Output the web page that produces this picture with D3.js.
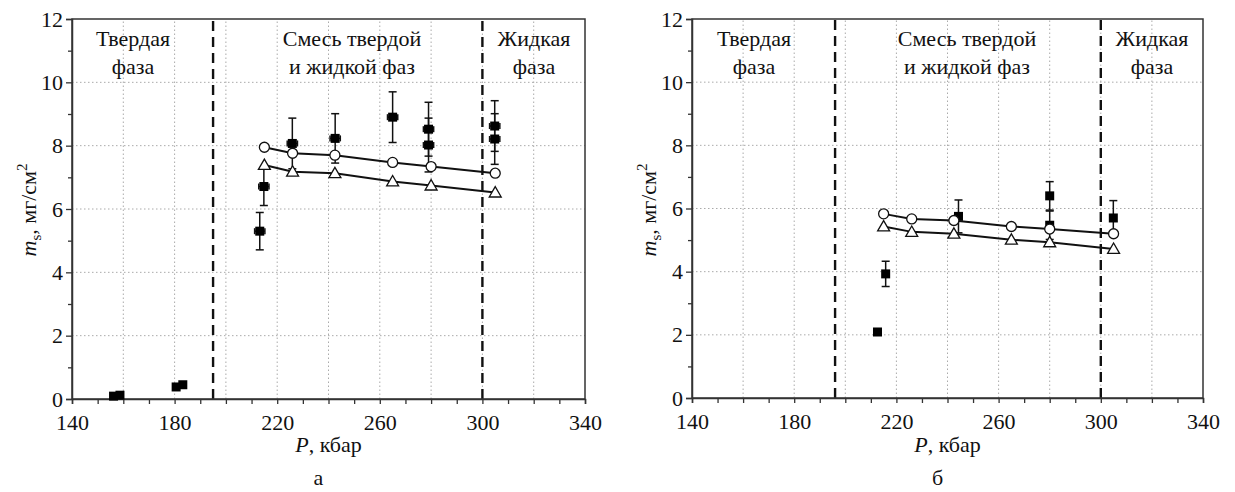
<!DOCTYPE html>
<html>
<head>
<meta charset="utf-8">
<script src="https://cdn.jsdelivr.net/npm/d3@7"></script>
<style>
  body { margin: 0; background: #fff; }
  svg text { font-family: "Liberation Serif", "Times New Roman", Times, "DejaVu Serif", serif !important; fill: #111; }
</style>
</head>
<body>
<svg></svg>
<script>
var w = 1235;
var h = 492;
var serif = "'Liberation Serif', 'Times New Roman', Times, 'DejaVu Serif', serif";

var svg = d3.select("svg")
            .attr("width", w)
            .attr("height", h)
            .style("font-family", serif);

// calculated points (same pressures in both panels)
var calcP = [215, 226, 242.5, 265, 280, 305];

// panel a
var leftCircles = [7.95, 7.76, 7.70, 7.47, 7.34, 7.13];
var leftTriangles = [7.39, 7.18, 7.13, 6.87, 6.74, 6.52];
var leftExpP = [156.2, 158.7, 180.6, 183.2, 213.2, 214.8, 225.9, 242.6, 265, 279, 279, 304.8, 304.8];
var leftExpM = [0.09, 0.12, 0.38, 0.45, 5.30, 6.71, 8.07, 8.23, 8.9, 8.52, 8.02, 8.62, 8.21];
var leftExpErr = [0, 0, 0, 0, 0.59, 0.6, 0.8, 0.78, 0.8, 0.85, 0.85, 0.8, 0.8];
var leftExpPErr = [0, 0, 0, 0, 2, 2, 2, 2, 2, 2, 2, 2, 2];
var leftBounds = [195, 300];

// panel б
var rightCircles = [5.83, 5.67, 5.62, 5.43, 5.35, 5.20];
var rightTriangles = [5.43, 5.26, 5.20, 5.01, 4.93, 4.72];
var rightExpP = [212.6, 215.8, 244.3, 280, 280, 304.9];
var rightExpM = [2.09, 3.93, 5.75, 6.40, 5.47, 5.70];
var rightExpErr = [0, 0.4, 0.52, 0.45, 0.45, 0.55];
var rightExpPErr = [0, 0, 0, 0, 0, 0];
var rightBounds = [196, 300];

var xTicks = d3.range(140, 341, 10);
var yTicks = d3.range(0, 13, 1);
var xGrid = d3.range(160, 321, 20);
var yGrid = d3.range(2, 11, 2);

function drawPanel(cfg) {
  var x = d3.scaleLinear().domain([140, 340]).range([cfg.x0, cfg.x1]);
  var y = d3.scaleLinear().domain([0, 12]).range([cfg.y0, cfg.y1]);
  var g = svg.append("g");

  // dotted grid
  g.selectAll(".vgrid").data(xGrid).join("line")
    .attr("x1", function(d){ return x(d); }).attr("x2", function(d){ return x(d); })
    .attr("y1", y(0)).attr("y2", y(12))
    .attr("stroke", "#aaa").attr("stroke-width", 1).attr("stroke-dasharray", "1.5,2.5");
  g.selectAll(".hgrid").data(yGrid).join("line")
    .attr("x1", x(140)).attr("x2", x(340))
    .attr("y1", function(d){ return y(d); }).attr("y2", function(d){ return y(d); })
    .attr("stroke", "#aaa").attr("stroke-width", 1).attr("stroke-dasharray", "1.5,2.5");

  // phase boundaries
  g.selectAll(".bound").data(cfg.bounds).join("line")
    .attr("x1", function(d){ return x(d); }).attr("x2", function(d){ return x(d); })
    .attr("y1", y(0)).attr("y2", y(12))
    .attr("stroke", "#111").attr("stroke-width", 2.4).attr("stroke-dasharray", "10,6");

  // frame
  g.append("rect")
    .attr("x", x(140)).attr("y", y(12))
    .attr("width", x(340) - x(140)).attr("height", y(0) - y(12))
    .attr("fill", "none").attr("stroke", "#333").attr("stroke-width", 1.5);

  // axes
  var xAxis = d3.axisBottom(x).tickValues(xTicks).tickSize(5).tickPadding(10)
    .tickFormat(function(d){ return d % 40 === 20 ? d : ""; });
  var xg = g.append("g").attr("transform", "translate(0," + y(0) + ")").call(xAxis);
  var yAxis = d3.axisLeft(y).tickValues(yTicks).tickSize(6).tickPadding(3)
    .tickFormat(function(d){ return d % 2 === 0 ? d : ""; });
  var yg = g.append("g").attr("transform", "translate(" + x(140) + ",0)").call(yAxis);
  yg.selectAll(".tick line").attr("x2", function(d){ return d % 2 === 0 ? -6 : -4; });
  [xg, yg].forEach(function(a){
    a.attr("font-family", null);
    a.select(".domain").attr("stroke", "#333").attr("stroke-width", 1.5);
    a.selectAll(".tick line").attr("stroke", "#333").attr("stroke-width", 1.3);
    a.selectAll(".tick text").style("font-size", "22px").style("font-family", serif).attr("fill", "#111");
  });
  xg.selectAll(".tick text").attr("dy", "0.71em");

  // experimental points with error bars
  var exp = cfg.expP.map(function(p, i){
    return { p: p, m: cfg.expM[i], e: cfg.expErr[i], pe: cfg.expPErr[i] };
  });
  var eb = g.append("g").attr("stroke", "#111").attr("stroke-width", 1.5);
  exp.forEach(function(d){
    if (d.e > 0) {
      eb.append("line").attr("x1", x(d.p)).attr("x2", x(d.p))
        .attr("y1", y(d.m - d.e)).attr("y2", y(d.m + d.e));
      [d.m - d.e, d.m + d.e].forEach(function(v){
        eb.append("line").attr("x1", x(d.p) - 4).attr("x2", x(d.p) + 4)
          .attr("y1", y(v)).attr("y2", y(v));
      });
    }
    if (d.pe > 0) {
      eb.append("line").attr("x1", x(d.p - d.pe)).attr("x2", x(d.p + d.pe))
        .attr("y1", y(d.m)).attr("y2", y(d.m));
      [d.p - d.pe, d.p + d.pe].forEach(function(v){
        eb.append("line").attr("x1", x(v)).attr("x2", x(v))
          .attr("y1", y(d.m) - 3).attr("y2", y(d.m) + 3);
      });
    }
  });
  g.selectAll(".sq").data(exp).join("rect")
    .attr("x", function(d){ return x(d.p) - 4.5; })
    .attr("y", function(d){ return y(d.m) - 4.5; })
    .attr("width", 9).attr("height", 9)
    .attr("fill", "#000");

  // calculated curves
  var line = d3.line().x(function(d){ return x(d[0]); }).y(function(d){ return y(d[1]); });
  [cfg.circles, cfg.triangles].forEach(function(vals){
    g.append("path")
      .attr("d", line(calcP.map(function(p, i){ return [p, vals[i]]; })))
      .attr("fill", "none").attr("stroke", "#111").attr("stroke-width", 2);
  });
  g.selectAll(".circ").data(cfg.circles).join("circle")
    .attr("cx", function(d, i){ return x(calcP[i]); })
    .attr("cy", function(d){ return y(d); })
    .attr("r", 5)
    .attr("fill", "#fff").attr("stroke", "#111").attr("stroke-width", 1.3);
  var tri = d3.symbol().type(d3.symbolTriangle).size(62);
  g.selectAll(".tri").data(cfg.triangles).join("path")
    .attr("d", tri)
    .attr("transform", function(d, i){ return "translate(" + x(calcP[i]) + "," + (y(d) + 1) + ")"; })
    .attr("fill", "#fff").attr("stroke", "#111").attr("stroke-width", 1.3);

  // phase labels
  var labels = [
    { t: "Твердая", x: cfg.lab[0], y: 46 }, { t: "фаза", x: cfg.lab[0], y: 74 },
    { t: "Смесь твердой", x: cfg.lab[1], y: 46 }, { t: "и жидкой фаз", x: cfg.lab[1], y: 74 },
    { t: "Жидкая", x: cfg.lab[2], y: 46 }, { t: "фаза", x: cfg.lab[2], y: 74 }
  ];
  g.selectAll(".plab").data(labels).join("text")
    .attr("x", function(d){ return d.x; })
    .attr("y", function(d){ return d.y; })
    .attr("text-anchor", "middle")
    .style("font-size", "22px")
    .text(function(d){ return d.t; });

  // axis titles
  var xt = g.append("text")
    .attr("x", (cfg.x0 + cfg.x1) / 2).attr("y", 452)
    .attr("text-anchor", "middle").style("font-size", "22px");
  xt.append("tspan").style("font-style", "italic").text("P");
  xt.append("tspan").text(", кбар");

  g.append("text")
    .attr("x", (cfg.x0 + cfg.x1) / 2 - 10).attr("y", 485)
    .attr("text-anchor", "middle").style("font-size", "22px")
    .text(cfg.letter);

  var yt = g.append("text")
    .attr("transform", "translate(" + (cfg.x0 - 36) + ",210) rotate(-90)")
    .attr("text-anchor", "middle").style("font-size", "22px");
  yt.append("tspan").style("font-style", "italic").text("m");
  yt.append("tspan").attr("dy", 5).style("font-size", "15px").text("s");
  yt.append("tspan").attr("dy", -5).text(", мг/см");
  yt.append("tspan").attr("dy", -9).style("font-size", "15px").text("2");
}

drawPanel({
  x0: 72, x1: 585, y0: 399, y1: 19,
  circles: leftCircles, triangles: leftTriangles,
  expP: leftExpP, expM: leftExpM, expErr: leftExpErr, expPErr: leftExpPErr,
  bounds: leftBounds, lab: [133, 352, 534], letter: "а"
});
drawPanel({
  x0: 692, x1: 1203, y0: 398, y1: 19,
  circles: rightCircles, triangles: rightTriangles,
  expP: rightExpP, expM: rightExpM, expErr: rightExpErr, expPErr: rightExpPErr,
  bounds: rightBounds, lab: [754, 967, 1152], letter: "б"
});
</script>
</body>
</html>
